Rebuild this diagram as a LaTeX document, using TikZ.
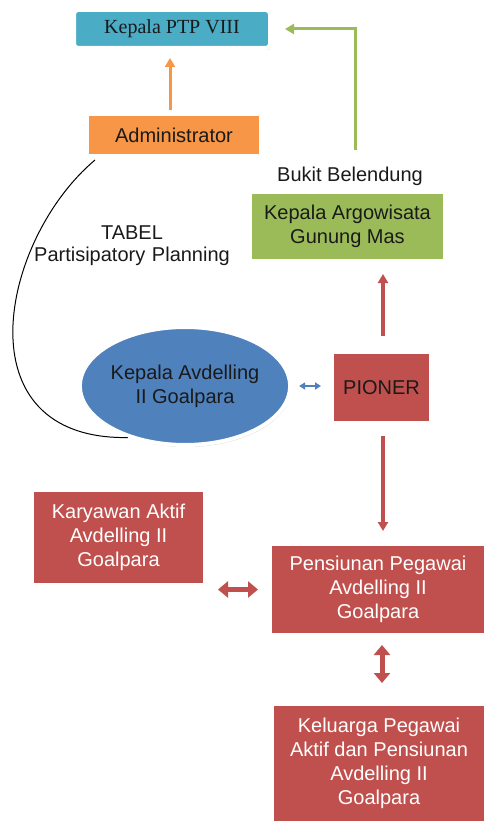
\documentclass[tikz,border=0pt]{standalone}
\usepackage{fontspec}
\setmainfont{Liberation Sans}
\newfontfamily\ptpfont{Liberation Serif}
\usetikzlibrary{arrows.meta}
\usetikzlibrary{shadows}
\usetikzlibrary{shapes.geometric}
\definecolor{ptpblue}{HTML}{4BACC6}
\definecolor{adminorange}{HTML}{F79646}
\definecolor{argogreen}{HTML}{9BBB59}
\definecolor{avdblue}{HTML}{4F81BD}
\definecolor{pionred}{HTML}{C0504D}
\definecolor{textdark}{HTML}{1A1A1A}
\tikzset{
  every node/.style={font=\fontsize{20}{24}\selectfont, text=textdark},
  box/.style={
    rectangle, draw=white, line width=4pt, align=center, inner sep=2pt,
    drop shadow={opacity=0.4, shadow xshift=1pt, shadow yshift=-2pt}
  },
  redbox/.style={box, fill=pionred, text=white},
  plain/.style={align=center, inner sep=1pt},
  thinarrow/.style={-{Triangle[width=10pt,length=9pt]}, line width=3pt},
  fatarrow/.style={{Triangle[width=16pt,length=10pt]}-{Triangle[width=16pt,length=10pt]},
    line width=5pt, draw=pionred}
}
\begin{document}
\begin{tikzpicture}[x=1pt, y=-1pt]
  \useasboundingbox (0,0) rectangle (489,829);

  % top of the chain
  \node (ptp) [box, fill=ptpblue, rounded corners=4pt, minimum width=196, minimum height=38]
    at (172,29) {\ptpfont Kepala PTP VIII};
  \node (admin) [box, fill=adminorange, minimum width=174, minimum height=42]
    at (174,135) {Administrator};

  % right column
  \node (bukit) [plain] at (350,176) {Bukit Belendung};
  \node (argo) [box, fill=argogreen, minimum width=195, minimum height=69]
    at (347.5,226.5) {Kepala Argowisata\\Gunung Mas};
  \node (tabel) [plain, text width=215, font=\fontsize{20}{22}\selectfont] at (132,246)
    {TABEL\\Partisipatory Planning};

  % middle row
  \node (avd) [ellipse, draw=white, line width=4pt, fill=avdblue, align=center, inner sep=0pt,
    minimum width=180, minimum height=118,
    drop shadow={opacity=0.4, shadow xshift=1pt, shadow yshift=-2pt}]
    at (185,386) {Kepala Avdelling\\II Goalpara};
  \node (pioner) [box, fill=pionred, minimum width=99, minimum height=71]
    at (381.5,387.5) {PIONER};

  % lower boxes
  \node (karya) [redbox, minimum width=173, minimum height=95]
    at (118.5,537.5) {Karyawan Aktif\\Avdelling II\\Goalpara};
  \node (pens) [redbox, minimum width=216, minimum height=91]
    at (378,589.5) {Pensiunan Pegawai\\Avdelling II\\Goalpara};
  \node (kel) [redbox, minimum width=214, minimum height=119]
    at (379,763.5) {Keluarga Pegawai\\Aktif dan Pensiunan\\Avdelling II\\Goalpara};

  % connectors
  \draw [thinarrow, draw=adminorange, shorten <=2pt, shorten >=8pt]
    ([xshift=-4pt]admin.north) -- ([xshift=-4pt]admin.north |- ptp.south);
  \draw [thinarrow, draw=argogreen, shorten <=40pt, shorten >=13pt]
    ([xshift=7.5pt]argo.north) |- (ptp.east);
  \draw [thinarrow, draw=pionred, line width=3.5pt, shorten <=14pt, shorten >=11pt]
    ([xshift=1.5pt]pioner.north) -- ([xshift=1.5pt]pioner.north |- argo.south);
  \draw [thinarrow, draw=pionred, line width=3.5pt, shorten <=11pt, shorten >=11pt]
    ([xshift=1.5pt]pioner.south) -- ([xshift=1.5pt]pioner.south |- pens.north);
  \draw [{Triangle[width=7pt,length=6pt]}-{Triangle[width=7pt,length=6pt]},
    line width=1.5pt, draw=avdblue, shorten <=7pt, shorten >=9pt]
    (avd.east) -- (avd.east -| pioner.west);
  \draw [fatarrow, shorten <=10pt, shorten >=11pt]
    (pens.west) -- (pens.west -| karya.east);
  \draw [fatarrow, shorten <=8pt, shorten >=19pt]
    ([xshift=4pt]pens.south) -- ([xshift=4pt]pens.south |- kel.north);
  \draw [line width=1pt, black]
    ([xshift=10pt,yshift=-2pt]admin.south west) .. controls (0,240) and (-40,440) .. (avd.222);
\end{tikzpicture}
\end{document}
